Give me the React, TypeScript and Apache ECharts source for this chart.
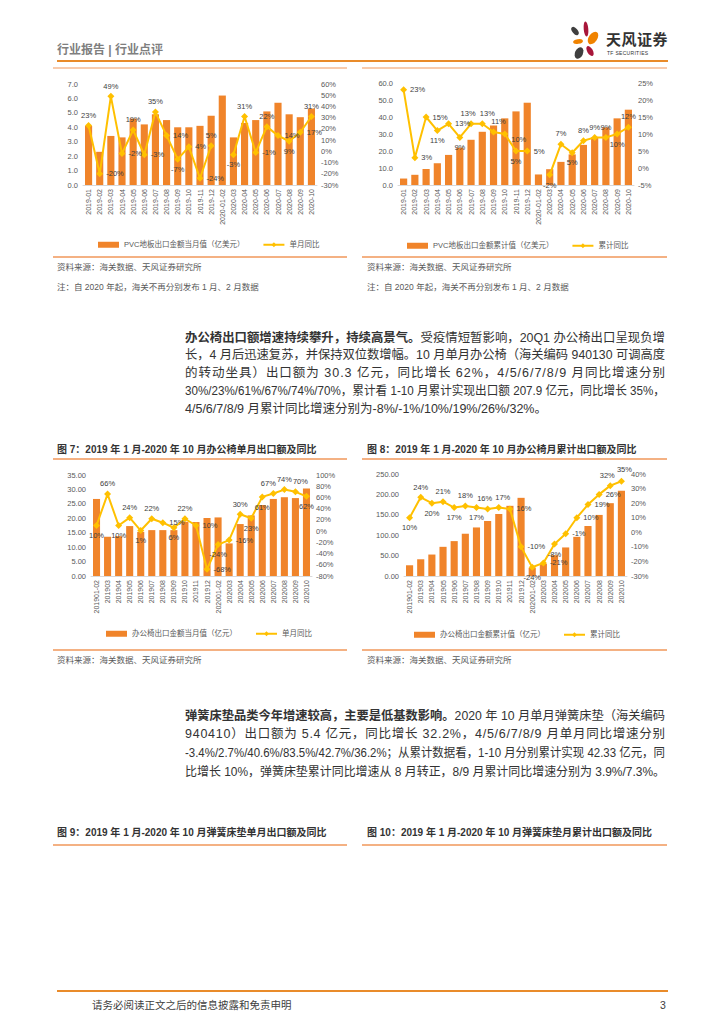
import React, { useEffect, useLayoutEffect, useRef } from 'react';
import * as echarts from 'echarts';

// ---------------- data ----------------
const MONTHS_PVC = ['2019-01','2019-02','2019-03','2019-04','2019-05','2019-06','2019-07','2019-08','2019-09','2019-10','2019-11','2019-12','2020-01-02','2020-03','2020-04','2020-05','2020-06','2020-07','2020-08','2020-09','2020-10'];
const PVC_MONTHLY = [4.1, 2.3, 3.4, 3.3, 4.6, 4.2, 4.9, 4.5, 4.0, 4.0, 4.1, 4.8, 6.2, 3.3, 4.3, 4.5, 5.1, 5.7, 4.9, 4.7, 5.3];
const PVC_MONTHLY_YOY = [23, -20, 49, -2, 19, -3, 35, 14, -7, 4, -24, 5, null, -3, 31, -1, 22, 14, 9, 17, 31];
const PVC_CUM = [3.8, 6.0, 9.4, 12.8, 17.7, 21.9, 26.6, 31.3, 35.0, 39.2, 43.3, 48.4, 6.2, 9.3, 13.6, 18.0, 23.6, 28.0, 33.9, 39.2, 44.3];
const PVC_CUM_YOY = [23, 3, 15, 11, 13, 9, 13, 13, 10.6, 10, 5, 5, null, -2, 7, 4.5, 8, 9, 9, 10, 12];

const MONTHS_CHAIR = ['201901-02','201903','201904','201905','201906','201907','201908','201909','201910','201911','201912','202001-02','202003','202004','202005','202006','202007','202008','202009','202010'];
const CHAIR_MONTHLY = [26.7, 13.6, 13.8, 17.3, 15.3, 15.9, 15.9, 15.9, 18.8, 18.7, 20.1, 20.3, 11.3, 18.0, 21.0, 24.6, 26.7, 27.3, 27.0, 30.3];
const CHAIR_MONTHLY_YOY = [10, 66, 10, 24, 1, 22, 15, 6, 22, 10, -68, -24, -16, 30, 23, 61, 67, 74, 70, 62];
const CHAIR_CUM = [26.3, 41.0, 52.6, 71.5, 85.5, 103.6, 119.0, 135.0, 152.0, 172.0, 191.6, 20.0, 30.0, 51.0, 70.0, 96.0, 122.5, 149.7, 178.5, 208.9];
const CHAIR_CUM_YOY = [10, 24, 20, 21, 17, 18, 17, 16, 17, 16, -10, -24, -21, -8, -1, 10, 19, 26, 32, 35];

// ---------------- label placement (style): "position,dx,dy" ----------------
const POS_A = ['top','right','top','right','top','right','top','right','bottom','right','right','top','top','bottom','top','right','top','right','bottom','right','top'];
const POS_B = ['right','right','right','bottom','right','bottom','top,-3,0','top,5,0','top,5,0','right,0,5','bottom','right','top','bottom','top','bottom','top','top','top','bottom','top'];
const POS_C = ['bottom','top','bottom','top','bottom','top','right','bottom','top','right','right','bottom','right','top','bottom','bottom','top,-5,0','top','top,5,0','bottom'];
const POS_D = ['bottom','top','bottom','top','bottom','top','bottom','top,-3,0','top,4,0','right','right','bottom','right','bottom','right','right','right','right','top,-3,0','top,3,-2'];

const FONT = "'Liberation Sans', 'Noto Sans CJK SC', sans-serif";
const CJK = "'Noto Sans CJK SC', sans-serif";
const PARA_FONT = "'Liberation Sans Narrow', 'Liberation Sans', 'Noto Sans CJK SC', sans-serif";
const BAR_COLOR = '#F0842A';
const LINE_COLOR = '#FFC000';
const AXIS_TEXT = '#595959';

interface Cfg {
  cats: string[];
  bar: number[];
  line: (number | null)[];
  pos: string[];
  barName: string;
  lineName: string;
  lMax: number; lInt: number; lDec: number;
  rMin: number; rMax: number; rInt: number;
  grid: { left: number; right: number; top: number; bottom: number };
  legend: { left: number; top: number };
}

function labelFor(spec: string) {
  const [p, dx, dy] = spec.split(',');
  return { position: p, offset: [Number(dx || 0), Number(dy || 0)] };
}

function buildOption(c: Cfg): any {
  return {
    animation: false,
    textStyle: { fontFamily: FONT },
    grid: { ...c.grid, containLabel: false },
    legend: {
      left: c.legend.left,
      top: c.legend.top,
      itemWidth: 21,
      itemHeight: 6,
      itemGap: 18,
      textStyle: { fontSize: 7.5, color: AXIS_TEXT, fontFamily: FONT },
      data: [
        { name: c.barName, icon: 'rect' },
        { name: c.lineName },
      ],
    },
    xAxis: {
      type: 'category',
      data: c.cats,
      axisTick: { show: false },
      axisLine: { lineStyle: { color: '#D9D9D9', width: 1 } },
      axisLabel: { rotate: 90, interval: 0, fontSize: 7, color: AXIS_TEXT, margin: 4, fontFamily: FONT },
    },
    yAxis: [
      {
        type: 'value', min: 0, max: c.lMax, interval: c.lInt,
        splitLine: { show: false }, axisLine: { show: false }, axisTick: { show: false },
        axisLabel: { fontSize: 7.5, color: AXIS_TEXT, margin: 5, fontFamily: FONT, formatter: (v: number) => v.toFixed(c.lDec) },
      },
      {
        type: 'value', min: c.rMin, max: c.rMax, interval: c.rInt, position: 'right',
        splitLine: { show: false }, axisLine: { show: false }, axisTick: { show: false },
        axisLabel: { fontSize: 7.5, color: AXIS_TEXT, margin: 4, fontFamily: FONT, formatter: (v: number) => v + '%' },
      },
    ],
    series: [
      {
        type: 'bar', name: c.barName, data: c.bar, barWidth: '64%',
        itemStyle: { color: BAR_COLOR },
      },
      {
        type: 'line', name: c.lineName, yAxisIndex: 1,
        data: c.line.map((v, i) => (v === null ? '-' : { value: v, label: labelFor(c.pos[i]) })),
        symbol: 'diamond', symbolSize: 7,
        lineStyle: { color: LINE_COLOR, width: 2 },
        itemStyle: { color: LINE_COLOR },
        label: {
          show: true, fontSize: 7.5, color: '#404040', distance: 3, fontFamily: FONT,
          formatter: (p: any) => Math.round(p.value) + '%',
        },
      },
    ],
  };
}

function Chart({ cfg, left, top, width, height }: { cfg: Cfg; left: number; top: number; width: number; height: number }) {
  const ref = useRef<HTMLDivElement>(null);
  useEffect(() => {
    const chart = echarts.init(ref.current!, null, { renderer: 'svg' });
    chart.setOption(buildOption(cfg));
    return () => chart.dispose();
  }, []);
  return <div ref={ref} style={{ position: 'absolute', left, top, width, height }} />;
}

function FitLine({ top, left, width, justify = true, children }: { top: number; left: number; width: number; justify?: boolean; children: any }) {
  const ref = useRef<HTMLSpanElement>(null);
  useLayoutEffect(() => {
    const el = ref.current!;
    const fit = () => {
      el.style.letterSpacing = '0px';
      el.style.transform = 'none';
      const w = el.getBoundingClientRect().width;
      const n = (el.textContent || '').length;
      if (w > width) {
        el.style.transform = `scaleX(${width / w})`;
      } else if (justify && n > 1) {
        el.style.letterSpacing = `${(width - w) / (n - 1)}px`;
      }
    };
    fit();
    const f = (document as any).fonts;
    if (f && f.ready) f.ready.then(fit);
  }, []);
  return (
    <div style={{ position: 'absolute', top, left, width: width + 20, height: 20, lineHeight: '20px', whiteSpace: 'nowrap', fontSize: 12.5, color: '#333', fontFamily: PARA_FONT }}>
      <span ref={ref} style={{ display: 'inline-block', transformOrigin: 'left center' }}>{children}</span>
    </div>
  );
}

function HLine({ x1, x2, y, color, w }: { x1: number; x2: number; y: number; color: string; w: number }) {
  return <div style={{ position: 'absolute', left: x1, top: y - w / 2, width: x2 - x1, height: w, background: color }} />;
}

function Txt({ x, y, size, color, bold, children }: { x: number; y: number; size: number; color: string; bold?: boolean; children: any }) {
  return (
    <div style={{ position: 'absolute', left: x, top: y - size * 0.7, fontSize: size, lineHeight: `${size * 1.4}px`, color, fontWeight: bold ? 700 : 400, fontFamily: FONT, whiteSpace: 'nowrap' }}>
      {children}
    </div>
  );
}

const cfgA: Cfg = {
  cats: MONTHS_PVC, bar: PVC_MONTHLY, line: PVC_MONTHLY_YOY, pos: POS_A,
  barName: 'PVC地板出口金额当月值（亿美元）', lineName: '单月同比',
  lMax: 7, lInt: 1, lDec: 1, rMin: -30, rMax: 60, rInt: 10,
  grid: { left: 30, right: 31, top: 14, bottom: 71 },
  legend: { left: 40, top: 166 },
};
const cfgB: Cfg = {
  cats: MONTHS_PVC, bar: PVC_CUM, line: PVC_CUM_YOY, pos: POS_B,
  barName: 'PVC地板出口金额累计值（亿美元）', lineName: '累计同比',
  lMax: 60, lInt: 10, lDec: 1, rMin: -5, rMax: 25, rInt: 5,
  grid: { left: 36, right: 34, top: 13, bottom: 71 },
  legend: { left: 40, top: 167 },
};
const cfgC: Cfg = {
  cats: MONTHS_CHAIR, bar: CHAIR_MONTHLY, line: CHAIR_MONTHLY_YOY, pos: POS_C,
  barName: '办公椅出口金额当月值（亿元）', lineName: '单月同比',
  lMax: 35, lInt: 5, lDec: 2, rMin: -80, rMax: 100, rInt: 20,
  grid: { left: 38, right: 36, top: 13, bottom: 72 },
  legend: { left: 48, top: 163 },
};
const cfgD: Cfg = {
  cats: MONTHS_CHAIR, bar: CHAIR_CUM, line: CHAIR_CUM_YOY, pos: POS_D,
  barName: '办公椅出口金额累计值（亿元）', lineName: '累计同比',
  lMax: 250, lInt: 50, lDec: 2, rMin: -30, rMax: 40, rInt: 10,
  grid: { left: 42, right: 41, top: 12, bottom: 72 },
  legend: { left: 47, top: 164 },
};

function Logo() {
  return (
    <svg style={{ position: 'absolute', left: 566, top: 20 }} width="36" height="42" viewBox="0 0 36 42">
      <ellipse cx="20" cy="9" rx="2.3" ry="7.5" fill="#A8163A" transform="rotate(-5 20 9)" />
      <ellipse cx="9" cy="11" rx="2.6" ry="4.8" fill="#3F3F3F" transform="rotate(-40 9 11)" />
      <ellipse cx="27" cy="18" rx="4.2" ry="7" fill="#F08300" transform="rotate(35 27 18)" />
      <ellipse cx="12" cy="21.5" rx="5" ry="2.4" fill="#F08300" transform="rotate(-10 12 21.5)" />
      <ellipse cx="24" cy="31" rx="2.8" ry="5.5" fill="#A8163A" transform="rotate(-30 24 31)" />
      <ellipse cx="13" cy="33" rx="4" ry="6" fill="#3F3F3F" transform="rotate(25 13 33)" />
    </svg>
  );
}

const B = ({ children }: { children: any }) => <span style={{ fontWeight: 700, fontFamily: CJK }}>{children}</span>;

export default function App() {
  const P1 = [337, 355, 373, 391, 409];
  const P2 = [715, 734, 753, 772];
  return (
    <div style={{ position: 'fixed', left: 0, top: 0, width: 724, height: 1024, background: '#fff', overflow: 'hidden', fontFamily: CJK }}>
      {/* header */}
      <Txt x={57} y={50} size={12} color="#7F7F7F" bold>行业报告 | 行业点评</Txt>
      <Logo />
      <div style={{ position: 'absolute', left: 606, top: 30, fontSize: 15, fontWeight: 700, color: '#333', fontFamily: CJK, lineHeight: '18px', letterSpacing: 0.5 }}>天风证券</div>
      <div style={{ position: 'absolute', left: 607, top: 50, fontSize: 5, color: '#333', fontFamily: FONT, lineHeight: '6px', letterSpacing: 0.3 }}>TF SECURITIES</div>
      <HLine x1={57} x2={668} y={61} color="#E98B2A" w={2} />

      {/* top charts */}
      <HLine x1={53} x2={347} y={68} color="#F8CBAD" w={2} />
      <HLine x1={362} x2={667} y={68} color="#F8CBAD" w={2} />
      <Chart cfg={cfgA} left={53} top={70} width={295} height={186} />
      <Chart cfg={cfgB} left={362} top={70} width={306} height={186} />
      <HLine x1={53} x2={347} y={257} color="#F4B183" w={1.5} />
      <HLine x1={362} x2={667} y={257} color="#F4B183" w={1.5} />
      <Txt x={57} y={268} size={8.5} color="#595959">资料来源：海关数据、天风证券研究所</Txt>
      <Txt x={367} y={268} size={8.5} color="#595959">资料来源：海关数据、天风证券研究所</Txt>
      <Txt x={57} y={288} size={8.5} color="#595959">注：自 2020 年起，海关不再分别发布 1 月、2 月数据</Txt>
      <Txt x={367} y={288} size={8.5} color="#595959">注：自 2020 年起，海关不再分别发布 1 月、2 月数据</Txt>

      {/* paragraph 1 */}
      <FitLine top={P1[0] - 10} left={185} width={480}><B>办公椅出口额增速持续攀升，持续高景气。</B>受疫情短暂影响，20Q1 办公椅出口呈现负增</FitLine>
      <FitLine top={P1[1] - 10} left={185} width={480}>长，4 月后迅速复苏，并保持双位数增幅。10 月单月办公椅（海关编码 940130 可调高度</FitLine>
      <FitLine top={P1[2] - 10} left={185} width={480}>的转动坐具）出口额为 30.3 亿元，同比增长 62%，4/5/6/7/8/9 月同比增速分别</FitLine>
      <FitLine top={P1[3] - 10} left={185} width={480}>30%/23%/61%/67%/74%/70%，累计看 1-10 月累计实现出口额 207.9 亿元，同比增长 35%，</FitLine>
      <FitLine top={P1[4] - 10} left={185} width={480} justify={false}>4/5/6/7/8/9 月累计同比增速分别为-8%/-1%/10%/19%/26%/32%。</FitLine>

      {/* figure 7 / 8 */}
      <Txt x={57} y={450} size={10} color="#333" bold>图 7：2019 年 1 月-2020 年 10 月办公椅单月出口额及同比</Txt>
      <Txt x={367} y={450} size={10} color="#333" bold>图 8：2019 年 1 月-2020 年 10 月办公椅月累计出口额及同比</Txt>
      <HLine x1={53} x2={347} y={459} color="#F4B183" w={2} />
      <HLine x1={362} x2={667} y={459} color="#F4B183" w={2} />
      <Chart cfg={cfgC} left={53} top={462} width={295} height={186} />
      <Chart cfg={cfgD} left={362} top={462} width={306} height={186} />
      <HLine x1={53} x2={347} y={650} color="#F4B183" w={1.5} />
      <HLine x1={362} x2={667} y={650} color="#F4B183" w={1.5} />
      <Txt x={57} y={661} size={8.5} color="#595959">资料来源：海关数据、天风证券研究所</Txt>
      <Txt x={367} y={661} size={8.5} color="#595959">资料来源：海关数据、天风证券研究所</Txt>

      {/* paragraph 2 */}
      <FitLine top={P2[0] - 10} left={185} width={480}><B>弹簧床垫品类今年增速较高，主要是低基数影响。</B>2020 年 10 月单月弹簧床垫（海关编码</FitLine>
      <FitLine top={P2[1] - 10} left={185} width={480}>940410）出口额为 5.4 亿元，同比增长 32.2%，4/5/6/7/8/9 月单月同比增速分别</FitLine>
      <FitLine top={P2[2] - 10} left={185} width={480}>-3.4%/2.7%/40.6%/83.5%/42.7%/36.2%；从累计数据看，1-10 月分别累计实现 42.33 亿元，同</FitLine>
      <FitLine top={P2[3] - 10} left={185} width={480} justify={false}>比增长 10%，弹簧床垫累计同比增速从 8 月转正，8/9 月累计同比增速分别为 3.9%/7.3%。</FitLine>

      {/* figure 9 / 10 titles */}
      <Txt x={57} y={833} size={10} color="#333" bold>图 9：2019 年 1 月-2020 年 10 月弹簧床垫单月出口额及同比</Txt>
      <Txt x={367} y={833} size={10} color="#333" bold>图 10：2019 年 1 月-2020 年 10 月弹簧床垫月累计出口额及同比</Txt>
      <HLine x1={53} x2={347} y={845} color="#F4B183" w={2} />
      <HLine x1={362} x2={667} y={845} color="#F4B183" w={2} />

      {/* footer */}
      <HLine x1={57} x2={668} y={991} color="#E98B2A" w={2} />
      <Txt x={92} y={1005} size={10.5} color="#404040">请务必阅读正文之后的信息披露和免责申明</Txt>
      <Txt x={660} y={1005} size={10.5} color="#404040">3</Txt>
    </div>
  );
}
